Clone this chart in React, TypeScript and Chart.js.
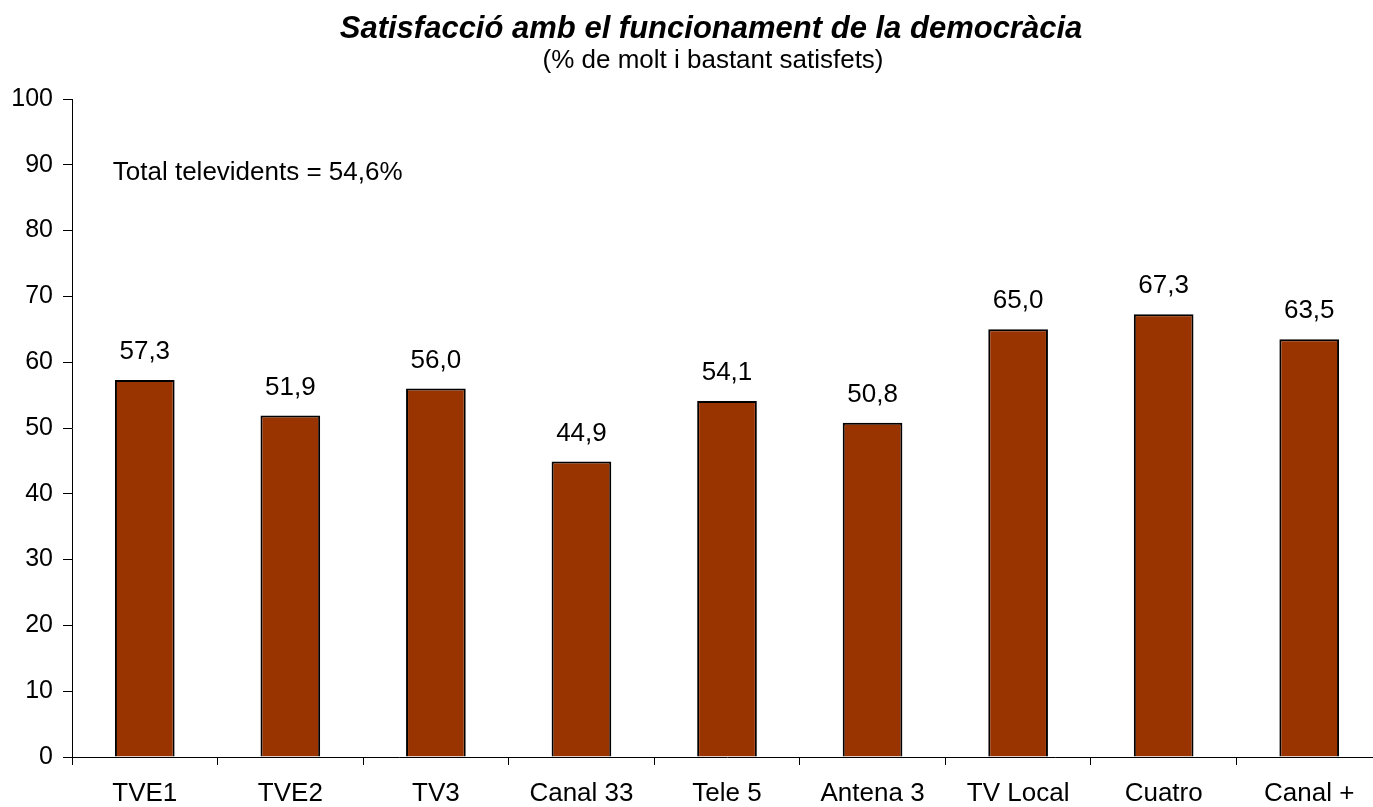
import React, { useEffect, useRef } from "react";
import { Chart, registerables } from "chart.js";

Chart.register(...registerables);

const categories = ["TVE1", "TVE2", "TV3", "Canal 33", "Tele 5", "Antena 3", "TV Local", "Cuatro", "Canal +"];
const values = [57.3, 51.9, 56.0, 44.9, 54.1, 50.8, 65.0, 67.3, 63.5];
const valueLabels = ["57,3", "51,9", "56,0", "44,9", "54,1", "50,8", "65,0", "67,3", "63,5"];
const titleText = "Satisfacció amb el funcionament de la democràcia";
const subtitleText = "(% de molt i bastant satisfets)";
const noteText = "Total televidents = 54,6%";
const noteValue = 89;

const FONT = "'Liberation Sans', Arial, sans-serif";
const W = 1400;
const H = 807;

const textPlugin = {
  id: "texts",
  afterDraw(chart: any) {
    const ctx = chart.ctx;
    const xs = chart.scales.x;
    const ys = chart.scales.y;
    ctx.save();
    ctx.fillStyle = "#000";
    ctx.textAlign = "center";
    ctx.textBaseline = "middle";
    ctx.font = `italic bold 31px ${FONT}`;
    ctx.fillText(titleText, 711, 29);
    ctx.font = `26px ${FONT}`;
    ctx.fillText(subtitleText, 713, 61);
    // data labels
    ctx.font = `26px ${FONT}`;
    const meta = chart.getDatasetMeta(0);
    meta.data.forEach((bar: any, i: number) => {
      ctx.fillText(valueLabels[i], bar.x, bar.y - 28);
    });
    // note
    ctx.textAlign = "left";
    ctx.font = `26px ${FONT}`;
    const nx = xs.getPixelForValue(0) - 32;
    ctx.fillText(noteText, nx, ys.getPixelForValue(noteValue) + 1);
    ctx.restore();
  },
};

export default function App() {
  const ref = useRef<HTMLCanvasElement>(null);
  useEffect(() => {
    document.body.style.margin = "0";
    const chart = new Chart(ref.current!, {
      type: "bar",
      data: {
        labels: categories,
        datasets: [
          {
            data: values,
            backgroundColor: "#993300",
            borderColor: "#000000",
            borderWidth: 2,
            barPercentage: 0.41,
            categoryPercentage: 1,
          },
        ],
      },
      options: {
        animation: false,
        responsive: false,
        maintainAspectRatio: false,
        layout: { padding: { top: 99, right: W - 1382, left: 0, bottom: 0 } },
        plugins: {
          legend: { display: false },
          tooltip: { enabled: false },
          title: { display: false },
        },
        scales: {
          x: {
            grid: {
              drawOnChartArea: false,
              drawTicks: true,
              tickLength: 8,
              color: "#000",
              offset: true,
            },
            border: { color: "#000", width: 1 },
            ticks: {
              color: "#000",
              font: { family: FONT, size: 26 },
              padding: 13,
              maxRotation: 0,
              autoSkip: false,
            },
            afterFit: (s: any) => {
              s.height = 50;
            },
          },
          y: {
            min: 0,
            max: 100,
            grid: {
              drawOnChartArea: false,
              drawTicks: true,
              tickLength: 9,
              color: "#000",
            },
            border: { color: "#000", width: 1 },
            ticks: {
              stepSize: 10,
              color: "#000",
              font: { family: FONT, size: 25 },
              padding: 10,
            },
            afterFit: (s: any) => {
              s.width = 72;
            },
          },
        },
      },
      plugins: [textPlugin],
    });
    return () => chart.destroy();
  }, []);
  return (
    <div style={{ position: "fixed", left: 0, top: 0, width: 1373, height: H, overflow: "hidden", background: "#fff" }}>
      <canvas ref={ref} width={W} height={H} style={{ width: W, height: H, display: "block" }} />
    </div>
  );
}
